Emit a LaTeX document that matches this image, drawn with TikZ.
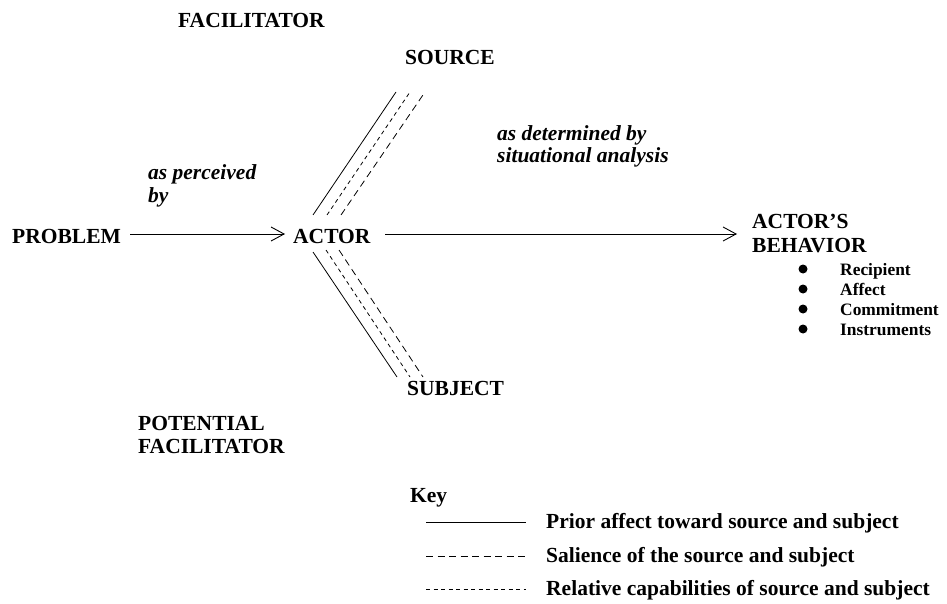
\documentclass[tikz,border=0pt]{standalone}
\usepackage{fontspec}
\setmainfont{Liberation Serif}
\usetikzlibrary{arrows.meta}

\tikzset{
	lbl/.style={inner sep=0pt, anchor=base west, font=\fontsize{21.5}{24}\selectfont\bfseries},
	note/.style={lbl, font=\fontsize{21.5}{24}\selectfont\bfseries\itshape},
	small/.style={inner sep=0pt, anchor=base west, font=\fontsize{17.4}{20}\selectfont\bfseries},
	arr/.style={line width=0.9pt, -{Straight Barb[length=13pt,width=14pt,line width=0.9pt]}},
	prior/.style={line width=0.8pt},
	salience/.style={line width=0.8pt, dash pattern=on 7pt off 4.5pt},
	capab/.style={line width=0.8pt, dash pattern=on 4pt off 3.5pt},
	dot/.style={circle, fill, inner sep=0pt, minimum size=9pt}
}

\begin{document}
\begin{tikzpicture}[x=1pt, y=-1pt]

	\useasboundingbox (0,0) rectangle (947,604);

	\node[lbl] (fac) at (178,28) {FACILITATOR};
	\node[lbl] (source) at (405,65) {SOURCE};
	\node[note] (perc1) at (148,180) {as perceived};
	\node[note] (perc2) at (148,203) {by};
	\node[note] (det1) at (497,141) {as determined by};
	\node[note] (det2) at (497,163) {situational analysis};

	\node[lbl] (problem) at (12,243) {PROBLEM};
	\node[lbl] (actor) at (293,243) {ACTOR};
	\node[lbl] (behav1) at (752,228) {ACTOR'S};
	\node[lbl] (behav2) at (752,252) {BEHAVIOR};

	\coordinate (p1) at (130,234);
	\coordinate (p2) at (285,234);
	\coordinate (p3) at (385,234);
	\coordinate (p4) at (737,234);
	\draw[arr] (p1) -- (p2);
	\draw[arr] (p3) -- (p4);

	\node[dot] (b1) at (803,269) {};
	\node[dot] (b2) at (803,289) {};
	\node[dot] (b3) at (803,309) {};
	\node[dot] (b4) at (803,329) {};
	\node[small] (recip) at (840,275) {Recipient};
	\node[small] (affect) at (840,295) {Affect};
	\node[small] (commit) at (840,315) {Commitment};
	\node[small] (instr) at (840,335) {Instruments};

	\coordinate (us1) at (313,215);
	\coordinate (us2) at (396,92);
	\coordinate (uc1) at (327,215);
	\coordinate (uc2) at (410,92);
	\coordinate (ud1) at (341,215);
	\coordinate (ud2) at (425,92);
	\draw[prior] (us1) -- (us2);
	\draw[capab] (uc1) -- (uc2);
	\draw[salience] (ud1) -- (ud2);

	\coordinate (ls1) at (313,252);
	\coordinate (ls2) at (397,377);
	\coordinate (lc1) at (326,250);
	\coordinate (lc2) at (410,377);
	\coordinate (ld1) at (339,250);
	\coordinate (ld2) at (423,377);
	\draw[prior] (ls1) -- (ls2);
	\draw[capab] (lc1) -- (lc2);
	\draw[salience] (ld1) -- (ld2);

	\node[lbl] (subject) at (407,395) {SUBJECT};
	\node[lbl] (pot1) at (138,430) {POTENTIAL};
	\node[lbl] (pot2) at (138,453) {FACILITATOR};

	\node[lbl] (key) at (410,502) {Key};
	\coordinate (k1a) at (426,522);
	\coordinate (k1b) at (526,522);
	\coordinate (k2a) at (426,556);
	\coordinate (k2b) at (526,556);
	\coordinate (k3a) at (426,589);
	\coordinate (k3b) at (526,589);
	\draw[prior] (k1a) -- (k1b);
	\draw[salience] (k2a) -- (k2b);
	\draw[capab] (k3a) -- (k3b);
	\node[lbl] (kprior) at (546,528) {Prior affect toward source and subject};
	\node[lbl] (ksal) at (546,562) {Salience of the source and subject};
	\node[lbl] (kcap) at (546,595) {Relative capabilities of source and subject};

\end{tikzpicture}
\end{document}
